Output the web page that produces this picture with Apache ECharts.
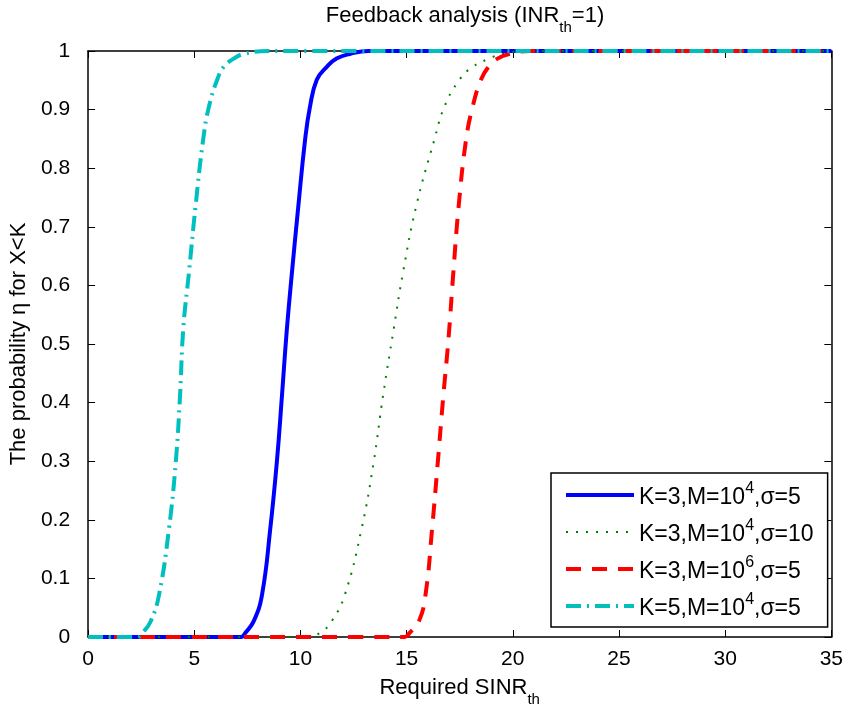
<!DOCTYPE html>
<html>
<head>
<meta charset="utf-8">
<script src="https://cdn.jsdelivr.net/npm/echarts@6/dist/echarts.min.js"></script>
<style>html,body{margin:0;padding:0;background:#fff}#c{width:846px;height:712px}</style>
</head>
<body>
<div id="c"></div>
<script>
// ---- data ----
var xTicks = [0, 5, 10, 15, 20, 25, 30, 35];
var yTicks = [0, 0.1, 0.2, 0.3, 0.4, 0.5, 0.6, 0.7, 0.8, 0.9, 1];

var blueX = [0, 7.2, 7.4, 7.8, 8.19, 8.58, 8.89, 9.13, 9.36, 9.6, 9.9, 10.22, 10.45, 10.77, 11.24, 11.7, 12.33, 13.2, 35];
var blueY = [0, 0, 0.007, 0.027, 0.072, 0.185, 0.299, 0.412, 0.525, 0.622, 0.735, 0.849, 0.905, 0.951, 0.973, 0.987, 0.995, 1, 1];

var greenX = [0, 10.3, 10.92, 11.47, 12.09, 12.88, 13.45, 13.89, 14.39, 14.83, 15.45, 16.31, 16.78, 17.49, 18.11, 18.89, 19.52, 21, 35];
var greenY = [0, 0, 0.007, 0.027, 0.072, 0.185, 0.299, 0.412, 0.525, 0.622, 0.735, 0.849, 0.905, 0.951, 0.973, 0.987, 0.995, 1, 1];

var redX = [0, 14.9, 15.14, 15.58, 15.89, 16.2, 16.47, 16.73, 16.97, 17.2, 17.45, 17.8, 18.11, 18.5, 18.86, 19.28, 19.83, 20.8, 35];
var redY = [0, 0, 0.007, 0.027, 0.072, 0.185, 0.299, 0.412, 0.508, 0.622, 0.735, 0.849, 0.905, 0.951, 0.973, 0.987, 0.995, 1, 1];

var cyanX = [0, 2.3, 2.56, 2.95, 3.34, 3.81, 4.13, 4.33, 4.48, 4.75, 5.06, 5.42, 5.69, 6.08, 6.39, 6.86, 7.33, 8.5, 35];
var cyanY = [0, 0, 0.007, 0.027, 0.072, 0.185, 0.299, 0.412, 0.525, 0.622, 0.735, 0.849, 0.905, 0.951, 0.973, 0.987, 0.995, 1, 1];

var seriesNames = ['K=3,M=10^4,σ=5', 'K=3,M=10^4,σ=10', 'K=3,M=10^6,σ=5', 'K=5,M=10^4,σ=5'];
var titleMain = 'Feedback analysis (INR';
var titleSub = 'th';
var titleEnd = '=1)';
var xName = 'Required SINR';
var xNameSub = 'th';
var yName = 'The probability η for X<K';

// ---- build ----
function pairs(xs, ys) { return xs.map(function (x, i) { return [x, ys[i]]; }); }
var FONT = 'Liberation Sans, Arial, Helvetica, sans-serif';
var FS = 21;
var LFS = 22;
var LEGFS = 23;

var styles = [
  { color: '#0000ff', width: 4, type: 'solid' },
  { color: '#008000', width: 2, type: [2, 8] },
  { color: '#ff0000', width: 4, type: [15, 11] },
  { color: '#00bfbf', width: 4, type: [15, 6, 2, 6] }
];
var data = [pairs(blueX, blueY), pairs(greenX, greenY), pairs(redX, redY), pairs(cyanX, cyanY)];

var series = data.map(function (d, i) {
  return {
    name: seriesNames[i],
    type: 'line',
    data: d,
    xAxisIndex: 0,
    yAxisIndex: 0,
    showSymbol: false,
    symbol: 'none',
    smooth: 0.45,
    clip: false,
    lineStyle: { color: styles[i].color, width: styles[i].width, type: styles[i].type },
    itemStyle: { color: styles[i].color, opacity: 0 },
    z: 2 + i,
    animation: false
  };
});

function axisCommon(extra) {
  var o = {
    axisLine: { show: true, onZero: false, lineStyle: { color: '#000', width: 1.5 } },
    axisTick: { show: true, inside: true, length: 7, lineStyle: { color: '#000', width: 1 } },
    splitLine: { show: false }
  };
  for (var k in extra) o[k] = extra[k];
  return o;
}

var option = {
  animation: false,
  backgroundColor: '#fff',
  textStyle: { fontFamily: FONT },
  title: {
    text: '{m|' + titleMain + '}{s|' + titleSub + '}{m|' + titleEnd + '}',
    left: 460,
    textAlign: 'center',
    top: 0,
    textStyle: {
      fontWeight: 'normal',
      rich: {
        m: { fontSize: LFS, fontFamily: FONT, fontWeight: 'normal', color: '#000', lineHeight: 30, verticalAlign: 'top' },
        s: { fontSize: 15, fontFamily: FONT, fontWeight: 'normal', color: '#000', lineHeight: 14, verticalAlign: 'bottom' }
      }
    }
  },
  grid: { left: 87, right: 13, top: 51, bottom: 73, containLabel: false },
  xAxis: [
    axisCommon({
      type: 'value', position: 'bottom', min: 0, max: 35, interval: 5,
      axisLabel: { show: true, margin: 12, color: '#000', fontSize: FS, fontFamily: FONT },
      name: '{m|' + xName + '}{s|' + xNameSub + '}',
      nameLocation: 'middle', nameGap: 40,
      nameTextStyle: {
        rich: {
          m: { fontSize: LFS, fontFamily: FONT, color: '#000', lineHeight: 30, verticalAlign: 'top' },
          s: { fontSize: 15, fontFamily: FONT, color: '#000', lineHeight: 14, verticalAlign: 'bottom' }
        }
      }
    }),
    axisCommon({
      type: 'value', position: 'top', min: 0, max: 35, interval: 5,
      axisLabel: { show: false }
    })
  ],
  yAxis: [
    axisCommon({
      type: 'value', position: 'left', min: 0, max: 1, interval: 0.1,
      axisLabel: { show: true, margin: 18, color: '#000', fontSize: FS, fontFamily: FONT },
      name: yName, nameLocation: 'middle', nameGap: 56,
      nameTextStyle: { fontSize: LFS, fontFamily: FONT, color: '#000' }
    }),
    axisCommon({
      type: 'value', position: 'right', min: 0, max: 1, interval: 0.1,
      axisLabel: { show: false }
    })
  ],
  legend: {
    show: true,
    orient: 'vertical',
    left: 551,
    top: 473,
    align: 'left',
    padding: [8, 14, 7, 13],
    itemGap: 9,
    itemWidth: 68,
    itemHeight: 20,
    borderColor: '#000',
    borderWidth: 1.5,
    backgroundColor: '#fff',
    itemStyle: { opacity: 0, borderWidth: 0 },
    data: seriesNames.map(function (n, i) {
      return { name: n, lineStyle: { width: styles[i].width, type: styles[i].type, color: styles[i].color } };
    }),
    formatter: function (n) {
      var parts = n.split('^');
      var sup = parts[1].charAt(0);
      var rest = parts[1].slice(1);
      return '{m|' + parts[0] + '}{u|' + sup + '}{m|' + rest + '}';
    },
    textStyle: {
      rich: {
        m: { fontSize: LEGFS, fontFamily: FONT, color: '#000', lineHeight: 28, verticalAlign: 'bottom' },
        u: { fontSize: 16, fontFamily: FONT, color: '#000', lineHeight: 10, verticalAlign: 'top' }
      }
    }
  },
  series: series
};

var chart = echarts.init(document.getElementById('c'), null, { renderer: 'canvas' });
chart.setOption(option);
</script>
</body>
</html>
